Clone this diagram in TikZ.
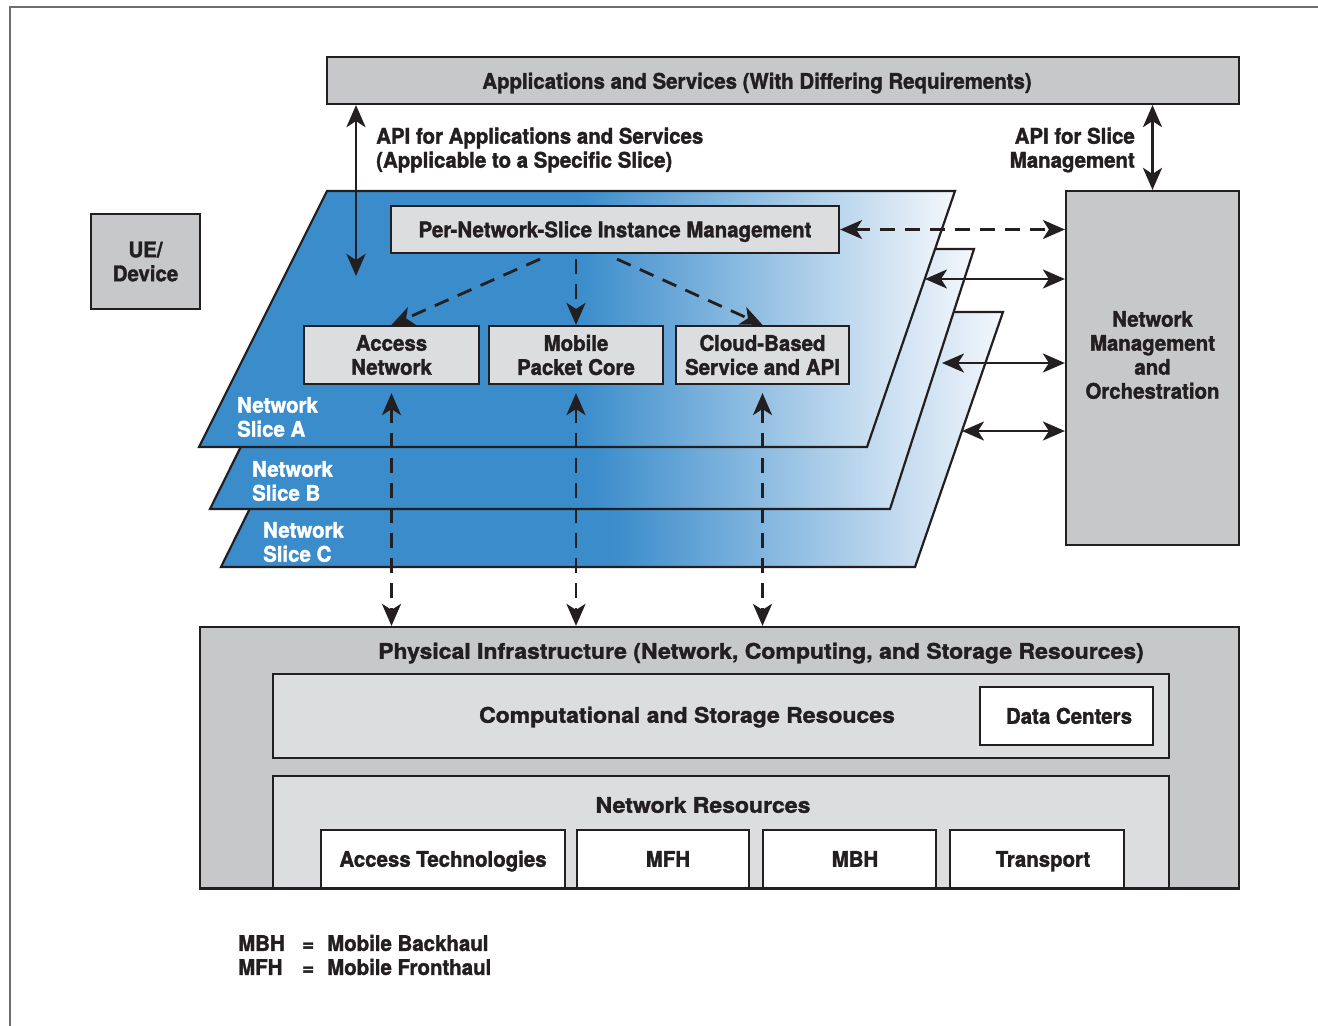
\documentclass[tikz,border=0pt]{standalone}
\usepackage{fontspec}
\setmainfont{TeX Gyre Heros}[FakeStretch=0.95, BoldFeatures={FakeBold=1.6}]
\newfontfamily\widefont{TeX Gyre Heros}[FakeStretch=1.07, BoldFeatures={FakeBold=1.6}]
\usetikzlibrary{arrows.meta,calc}
\definecolor{ink}{HTML}{231F20}
\definecolor{boxgray}{HTML}{C7C8CA}
\definecolor{palegray}{HTML}{DCDDDF}
\definecolor{sliceblue}{HTML}{3A8CCB}
\definecolor{slicefade}{HTML}{F4F7FC}
\definecolor{framegray}{HTML}{6D6E70}
\tikzset{
  lbl/.style={font=\bfseries\fontsize{21.5}{24}\selectfont, text=ink, inner sep=0pt, align=center},
  wide/.style={font=\widefont\bfseries\fontsize{21.5}{24}\selectfont},
  oneline/.style={text height=15.5pt, text depth=0pt},
  box/.style={draw=ink, line width=2.2pt, fill=#1, inner sep=0pt,
              font=\bfseries\fontsize{21.5}{24}\selectfont, text=ink, align=center},
  slicebody/.style={draw=ink, line width=2.2pt, left color=sliceblue,
              right color=slicefade, middle color=sliceblue},
  tip/.tip={Stealth[length=22pt,width=19pt,inset=6pt]},
  dbl/.style={draw=ink, line width=2.8pt, tip-tip},
  dsh/.style={draw=ink, line width=2.8pt, dash pattern=on 15pt off 10pt},
}
\begin{document}
\begin{tikzpicture}[x=1pt,y=-1pt]
\useasboundingbox (0,0) rectangle (1318,1026);
\fill[white] (0,0) rectangle (1318,1026);
% page frame
\draw[framegray, line width=1.5pt] (10,1026) -- (10,7) -- (1318,7);

% top and side boxes
\node[box=boxgray, minimum width=912pt, minimum height=47pt] (apps) at (783,80.5) {};
\node[lbl, oneline] (appstxt) at (757,81) {Applications and Services (With Differing Requirements)};
\node[box=boxgray, minimum width=109pt, minimum height=95pt] (ue) at (145.5,261.5) {UE/\\Device};
\node[box=boxgray, minimum width=173pt, minimum height=354pt] (nmo) at (1152.5,368) {};
\node[lbl] (nmotxt) at (1152.5,355) {Network\\Management\\and\\Orchestration};

% network slices, back to front
\draw[slicebody] (347,312) -- (1003,312) -- (915,567) -- (221,567) -- cycle;
\draw[slicebody] (339,249) -- (974,249) -- (890,509) -- (210,509) -- cycle;
\draw[slicebody] (327,191) -- (955,191) -- (867,447) -- (199,447) -- cycle;
\node[lbl, text=white, anchor=west, align=left] (sla) at (237,417) {Network\\Slice A};
\node[lbl, text=white, anchor=west, align=left] (slb) at (252,481) {Network\\Slice B};
\node[lbl, text=white, anchor=west, align=left] (slc) at (263,542) {Network\\Slice C};

% slice functions
\node[box=palegray, oneline, minimum width=448pt, minimum height=47pt] (pnsi) at (615,229.5) {Per-Network-Slice Instance Management};
\node[box=palegray, minimum width=175pt, minimum height=58pt] (acc) at (391.5,355) {Access\\Network};
\node[box=palegray, minimum width=174pt, minimum height=58pt] (mpc) at (576,355) {Mobile\\Packet Core};
\node[box=palegray, minimum width=173pt, minimum height=58pt] (cld) at (762.5,355) {Cloud-Based\\Service and API};

% API labels
\node[lbl, anchor=west, align=left] (apitxt) at (376,150) {API for Applications and Services\\(Applicable to a Specific Slice)};
\node[lbl, anchor=east, align=right] (slmtxt) at (1135,150) {API for Slice\\Management};

% physical infrastructure
\node[box=boxgray, minimum width=1039pt, minimum height=261pt] (phys) at (719.5,757.5) {};
\node[lbl, wide, oneline] (phystxt) at (761,651) {Physical Infrastructure (Network, Computing, and Storage Resources)};
\node[box=palegray, minimum width=896pt, minimum height=84pt] (comp) at (721,716) {};
\node[lbl, wide, oneline] (comptxt) at (687,715) {Computational and Storage Resouces};
\node[box=white, oneline, minimum width=173pt, minimum height=58pt] (dc) at (1066.5,716) {\hspace*{5pt}Data Centers};
\node[box=palegray, minimum width=896pt, minimum height=112pt] (netres) at (721,832) {};
\node[lbl, wide, oneline] (netrestxt) at (703,805) {Network Resources};
\node[box=white, oneline, minimum width=244pt, minimum height=58pt] (acct) at (443,859) {Access Technologies};
\node[box=white, oneline, minimum width=172pt, minimum height=58pt] (mfh) at (663,859) {\hspace*{10pt}MFH};
\node[box=white, oneline, minimum width=173pt, minimum height=58pt] (mbh) at (849.5,859) {\hspace*{11pt}MBH};
\node[box=white, oneline, minimum width=174pt, minimum height=58pt] (trans) at (1037,859) {\hspace*{12pt}Transport};
\draw[ink, line width=2.2pt] (phys.south west) -- (phys.south east);

% legend
\node[lbl, anchor=west, align=left] (legend) at (238,955)
  {\makebox[64pt][l]{MBH}\makebox[25pt][l]{=}Mobile Backhaul\\
   \makebox[64pt][l]{MFH}\makebox[25pt][l]{=}Mobile Fronthaul};

% connector end points on the slices
\coordinate (apiend) at (356,276);
\coordinate (edgea) at (925,279);
\coordinate (edgeb) at (942,363);
\coordinate (edgec) at (962,431);

% API arrows
\draw[dbl] (apps.south -| apiend) -- (apiend);
\draw[dbl] (apps.south -| nmo.north) -- (nmo.north);

% management links
\draw[dsh, tip-tip] (pnsi.east) -- (pnsi.east -| nmo.west);
\draw[dbl] (edgea) -- (edgea -| nmo.west);
\draw[dbl] (edgeb) -- (edgeb -| nmo.west);
\draw[dbl] (edgec) -- (edgec -| nmo.west);

% instance management to slice functions
\draw[dsh, -tip] ($(pnsi.south)+(-75,5)$) -- (acc.north);
\draw[dsh, -tip] ($(mpc.north |- pnsi.south)+(0,5)$) -- (mpc.north);
\draw[dsh, -tip] ($(pnsi.south)+(2,5)$) -- (cld.north);

% slice functions to physical resources
\draw[dsh, tip-tip] ($(acc.south)+(0,8)$) -- (acc.south |- phys.north);
\draw[dsh, tip-tip] ($(mpc.south)+(0,8)$) -- (mpc.south |- phys.north);
\draw[dsh, tip-tip] ($(cld.south)+(0,8)$) -- (cld.south |- phys.north);
\end{tikzpicture}
\end{document}
